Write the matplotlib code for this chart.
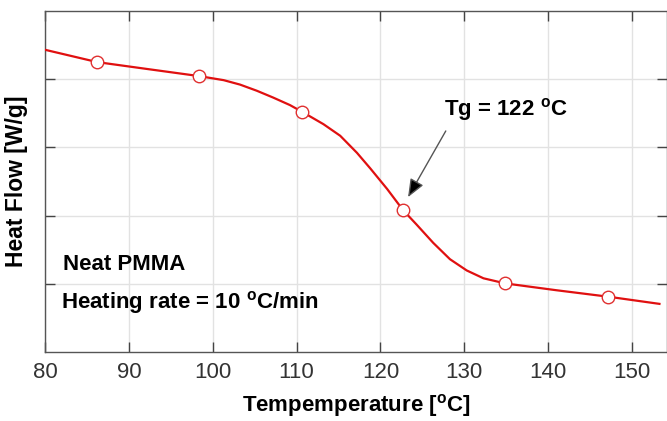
import matplotlib
matplotlib.use("Agg")
import matplotlib.pyplot as plt

plt.rcParams['font.family'] = ['Liberation Sans', 'DejaVu Sans']
plt.rcParams['mathtext.fontset'] = 'custom'
plt.rcParams['mathtext.rm'] = 'Liberation Sans'
plt.rcParams['mathtext.bf'] = 'Liberation Sans:bold'

# DSC curve (arbitrary heat-flow units)
temp = [80, 86.2, 92.1, 98.35, 101.3, 103.25, 105.25, 107.2, 109.2, 110.6,
        113.2, 115.2, 117.2, 118.8, 120.8, 122.7, 124.3, 126.3, 128.3,
        130.3, 132.3, 134.9, 141.0, 147.2, 153.3]
heat = [4.43, 4.25, 4.15, 4.045, 3.985, 3.92, 3.83, 3.73, 3.62, 3.525,
        3.34, 3.17, 2.92, 2.69, 2.39, 2.08, 1.87, 1.60, 1.36,
        1.195, 1.08, 1.005, 0.905, 0.81, 0.705]

# open-circle markers
mark_t = [86.2, 98.35, 110.6, 122.7, 134.9, 147.2]
mark_h = [4.25, 4.045, 3.525, 2.08, 1.005, 0.81]

x_ticks = [80, 90, 100, 110, 120, 130, 140, 150]
y_ticks = [1, 2, 3, 4]

fig = plt.figure(figsize=(6.67, 4.21), dpi=100)
ax = fig.add_axes([0.0678, 0.164, 0.9322, 0.81])

ax.plot(temp, heat, color='#e01010', lw=1.6, zorder=3)
ax.plot(mark_t, mark_h, ls='none', marker='o', ms=9, mfc='white',
        mec='#e03030', mew=1.0, zorder=4)

ax.set_xlim(80, 154.2)
ax.set_ylim(0, 5)
ax.set_xticks(x_ticks)
ax.set_yticks(y_ticks)
ax.set_yticklabels([])
ax.grid(True, color='#e2e2e2', lw=1.0)
ax.set_axisbelow(True)

ax.tick_params(axis='both', direction='in', length=7, width=1,
               color='#444444', top=True, right=True)
ax.tick_params(axis='x', labelsize=16, labelcolor='#333333', pad=7)
for s in ['left', 'bottom', 'top', 'right']:
    ax.spines[s].set_color('#555555')
    ax.spines[s].set_linewidth(1.0)

ax.set_xlabel(r'Tempemperature [$^{\mathbf{o}}$C]', fontsize=16,
              fontweight='bold', labelpad=7)
ax.set_ylabel('Heat Flow [W/g]', fontsize=16.5, fontweight='bold', labelpad=9)

ax.text(127.6, 3.55, r'Tg = 122 $^{\mathbf{o}}$C', fontsize=16,
        fontweight='bold', va='center', ha='left')
ax.annotate('', xy=(123.3, 2.27), xytext=(127.8, 3.24),
            arrowprops=dict(arrowstyle='-|>,head_length=1.1,head_width=0.45',
                            color='#555555', lw=1.0, shrinkA=0, shrinkB=0,
                            fc='black', ec='#555555'))

ax.text(82.16, 1.28, 'Neat PMMA', fontsize=16, fontweight='bold',
        va='center', ha='left')
ax.text(81.9, 0.72, r'Heating rate = 10 $^{\mathbf{o}}$C/min', fontsize=16,
        fontweight='bold', va='center', ha='left')

fig.savefig('out.png', dpi=100)
